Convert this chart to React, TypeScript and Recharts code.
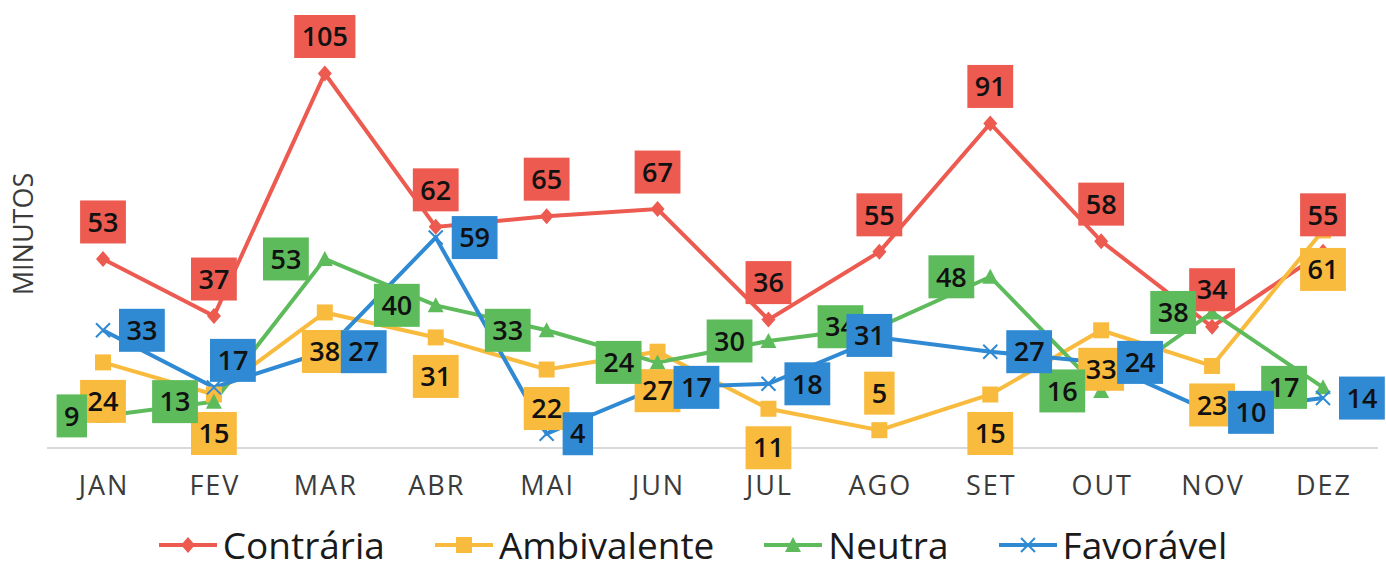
import { LineChart, Line, XAxis, YAxis, Legend, LabelList } from "recharts";

// dados: minutos por mês e por posição
const months = ["JAN", "FEV", "MAR", "ABR", "MAI", "JUN", "JUL", "AGO", "SET", "OUT", "NOV", "DEZ"];
const contraria = [53, 37, 105, 62, 65, 67, 36, 55, 91, 58, 34, 55];
const ambivalente = [24, 15, 38, 31, 22, 27, 11, 5, 15, 33, 23, 61];
const neutra = [9, 13, 53, 40, 33, 24, 30, 34, 48, 16, 38, 17];
const favoravel = [33, 17, 27, 59, 4, 17, 18, 31, 27, 24, 10, 14];

const seriesNames = ["Contrária", "Ambivalente", "Neutra", "Favorável"];

const data = months.map((m, i) => ({
  mes: m,
  contraria: contraria[i],
  ambivalente: ambivalente[i],
  neutra: neutra[i],
  favoravel: favoravel[i],
}));

const RED = "#EC5A50";
const ORANGE = "#F9BB3D";
const GREEN = "#5DBB5C";
const BLUE = "#2F8AD3";
const FONT = "'Open Sans', sans-serif";

// posição dos rótulos (como no Excel)
const allTop = months.map(() => "top");
const allLeft = months.map(() => "left");
const ambivalentePos = months.map((_, i) => (i === 7 ? "top" : "bottom"));
const favoravelPos = months.map((_, i) => (i === 1 ? "upRight" : i === 7 ? "center" : "right"));

type Shape = "diamond" | "square" | "triangle" | "cross";

function marker(shape: Shape, cx: number, cy: number, color: string, key?: any) {
  if (shape === "diamond")
    return <path key={key} d={`M${cx},${cy - 8}L${cx + 7},${cy}L${cx},${cy + 8}L${cx - 7},${cy}Z`} fill={color} />;
  if (shape === "square")
    return <rect key={key} x={cx - 8} y={cy - 8} width={16} height={16} fill={color} />;
  if (shape === "triangle")
    return <path key={key} d={`M${cx},${cy - 8}L${cx + 8},${cy + 7}L${cx - 8},${cy + 7}Z`} fill={color} />;
  return (
    <path key={key} d={`M${cx - 7},${cy - 7}L${cx + 7},${cy + 7}M${cx + 7},${cy - 7}L${cx - 7},${cy + 7}`}
      stroke={color} strokeWidth={2} fill="none" />
  );
}

const makeDot = (shape: Shape, color: string) => (p: any) => {
  if (p.cx == null || p.cy == null) return <g key={p.index} />;
  return marker(shape, p.cx, p.cy, color, `dot-${p.index}`);
};

const makeLabel = (color: string, places: string[]) => (props: any) => {
  const { x, y, value, index } = props;
  const text = String(value);
  const w = text.length * 15.4 + 15;
  const h = 43;
  const p = places[index];
  let cx = x;
  let cy = y;
  if (p === "top") cy = y - 37;
  else if (p === "bottom") cy = y + 39;
  else if (p === "left") cx = x - 16 - w / 2;
  else if (p === "right") cx = x + 16 + w / 2;
  else if (p === "upRight") { cx = x + 19; cy = y - 27; }
  else if (p === "center") { cx = x - 10; cy = y - 2; }
  return (
    <g key={`lbl-${index}`}>
      <rect x={cx - w / 2} y={cy - h / 2} width={w} height={h} fill={color} />
      <text x={cx} y={cy} dy="0.36em" textAnchor="middle" fontSize={27} fontWeight={600}
        fontFamily={FONT} fill="#111">{text}</text>
    </g>
  );
};

const MonthTick = ({ x, y, payload }: any) => (
  <text x={x + 1} y={y + 47} textAnchor="middle" fontSize={27} letterSpacing={2}
    fill="#3b3b3b" fontFamily={FONT}>{payload.value}</text>
);

const legendItems: { color: string; shape: Shape }[] = [
  { color: RED, shape: "diamond" },
  { color: ORANGE, shape: "square" },
  { color: GREEN, shape: "triangle" },
  { color: BLUE, shape: "cross" },
];

const LegendContent = () => (
  <div style={{ display: "flex", justifyContent: "center", alignItems: "center", gap: 50,
    fontFamily: FONT, fontSize: 37, lineHeight: "40px", color: "#1a1a1a" }}>
    {legendItems.map((it, i) => (
      <div key={i} style={{ display: "flex", alignItems: "center" }}>
        <svg width={58} height={20}>
          <line x1={0} y1={10} x2={58} y2={10} stroke={it.color} strokeWidth={4} />
          {marker(it.shape, 29, 10, it.color)}
        </svg>
        <span style={{ marginLeft: 6 }}>{seriesNames[i]}</span>
      </div>
    ))}
  </div>
);

export default function App() {
  return (
    <div style={{ position: "absolute", left: 0, top: 0, width: 1386, height: 571, background: "#fff" }}>
      <LineChart width={1386} height={571} data={data} margin={{ top: 20, right: 8, bottom: 93, left: 47 }}>
        <XAxis dataKey="mes" height={30} tickSize={0} tickMargin={0} tickLine={false}
          padding={{ left: 56, right: 55 }}
          axisLine={{ stroke: "#D9D9D9", strokeWidth: 2 }} tick={<MonthTick />} interval={0} />
        <YAxis hide domain={[0, 120]} />
        <Legend layout="horizontal" verticalAlign="middle" align="center" content={<LegendContent />}
          wrapperStyle={{ top: 525, left: 0, width: 1386, height: 40 }} />

        <Line dataKey="contraria" name={seriesNames[0]} stroke={RED} strokeWidth={4}
          dot={makeDot("diamond", RED)} activeDot={false} isAnimationActive={false} />
        <Line dataKey="ambivalente" name={seriesNames[1]} stroke={ORANGE} strokeWidth={4}
          dot={makeDot("square", ORANGE)} activeDot={false} isAnimationActive={false} />
        <Line dataKey="neutra" name={seriesNames[2]} stroke={GREEN} strokeWidth={4}
          dot={makeDot("triangle", GREEN)} activeDot={false} isAnimationActive={false} />
        <Line dataKey="favoravel" name={seriesNames[3]} stroke={BLUE} strokeWidth={4}
          dot={makeDot("cross", BLUE)} activeDot={false} isAnimationActive={false} />

        {/* rótulos por cima de todas as linhas */}
        <Line dataKey="contraria" stroke="none" dot={false} activeDot={false} legendType="none" isAnimationActive={false}>
          <LabelList dataKey="contraria" content={makeLabel(RED, allTop)} />
        </Line>
        <Line dataKey="ambivalente" stroke="none" dot={false} activeDot={false} legendType="none" isAnimationActive={false}>
          <LabelList dataKey="ambivalente" content={makeLabel(ORANGE, ambivalentePos)} />
        </Line>
        <Line dataKey="neutra" stroke="none" dot={false} activeDot={false} legendType="none" isAnimationActive={false}>
          <LabelList dataKey="neutra" content={makeLabel(GREEN, allLeft)} />
        </Line>
        <Line dataKey="favoravel" stroke="none" dot={false} activeDot={false} legendType="none" isAnimationActive={false}>
          <LabelList dataKey="favoravel" content={makeLabel(BLUE, favoravelPos)} />
        </Line>
      </LineChart>
      <svg width={50} height={571} style={{ position: "absolute", left: 0, top: 0, pointerEvents: "none" }}>
        <text x={0} y={0} transform="translate(33,234) rotate(-90)" textAnchor="middle" fontSize={27}
          fill="#3b3b3b" fontFamily={FONT}>MINUTOS</text>
      </svg>
    </div>
  );
}
